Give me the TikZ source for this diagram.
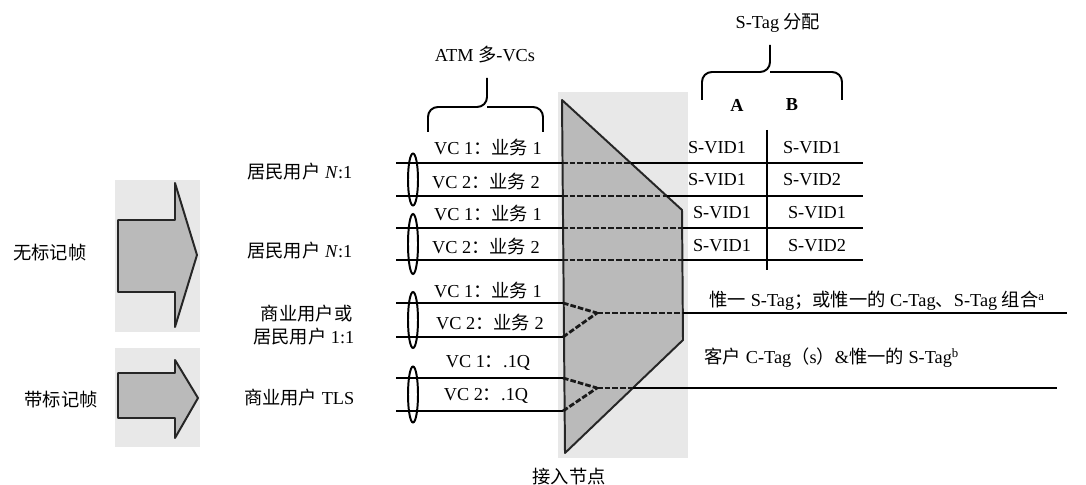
\documentclass[tikz,border=0pt]{standalone}
\usepackage{fontspec}
\setmainfont{Liberation Serif}
\newfontfamily\cjk{Noto Sans CJK SC}
\usepackage{xcolor}
\usetikzlibrary{positioning}

\begin{document}
\begin{tikzpicture}[
    x=0.025cm, y=-0.025cm,
    lbl/.style={font=\fontsize{13}{15}\selectfont, inner sep=1pt, align=center},
    link/.style={line width=1.5pt, black},
    dlink/.style={line width=2pt, black!90, dash pattern=on 4pt off 1.5pt},
    pad/.style={fill=black!9},
    frame/.style={fill=black!27, draw=black!85, line width=1.4pt, line join=round},
    ring/.style={draw, line width=1.4pt},
    brace/.style={draw, line width=1.4pt, rounded corners=7pt}
]
    \useasboundingbox (0,0) rectangle (1086,485);

    % frame arrows
    \fill[pad] (115,180) rectangle (200,332);
    \draw[frame] (118,220) -- (175,220) -- (175,183) -- (197,255) -- (175,327) -- (175,292) -- (118,292) -- cycle;
    \fill[pad] (115,348) rectangle (200,447);
    \draw[frame] (118,373) -- (175,373) -- (175,360) -- (198,398) -- (175,438) -- (175,418) -- (118,418) -- cycle;
    \node[lbl] (untagged) at (50,253) {\cjk 无标记帧};
    \node[lbl] (tagged) at (61,400) {\cjk 带标记帧};

    % user groups
    \node[lbl, anchor=east] (res1) at (354,172) {{\cjk 居民用户} \textit{N}:1};
    \node[lbl, anchor=east] (res2) at (354,251) {{\cjk 居民用户} \textit{N}:1};
    \node[lbl, anchor=east] (biz1) at (354,314) {\cjk 商业用户或};
    \node[lbl, anchor=east] (biz2) at (356,337) {{\cjk 居民用户} 1:1};
    \node[lbl, anchor=east] (tls) at (356,398) {{\cjk 商业用户} TLS};

    % access node
    \fill[pad] (558,92) rectangle (688,458);
    \draw[frame] (562,100) -- (682,210) -- (683,340) -- (565,453) -- cycle;
    \node[lbl] (node) at (569,477) {\cjk 接入节点};

    % VC lines, group 1 and 2
    \coordinate (a1) at (396,163); \coordinate (e1) at (562,163); \coordinate (s1) at (631,163); \coordinate (t1) at (863,163);
    \coordinate (a2) at (396,196); \coordinate (e2) at (562,196); \coordinate (s2) at (667,196); \coordinate (t2) at (863,196);
    \coordinate (a3) at (396,228); \coordinate (e3) at (562,228); \coordinate (s3) at (683,228); \coordinate (t3) at (863,228);
    \coordinate (a4) at (396,260); \coordinate (e4) at (562,260); \coordinate (s4) at (683,260); \coordinate (t4) at (863,260);
    \foreach \i in {1,...,4} {
        \draw[link] (a\i) -- (e\i);
        \draw[dlink] (e\i) -- (s\i);
        \draw[link] (s\i) -- (t\i);
    }

    % VC lines, group 3 and 4
    \coordinate (a5) at (396,303); \coordinate (e5) at (563,303);
    \coordinate (a6) at (396,337); \coordinate (e6) at (563,337);
    \coordinate (m1) at (597,313); \coordinate (p1) at (683,313); \coordinate (q1) at (1067,313);
    \coordinate (a7) at (396,378); \coordinate (e7) at (563,378);
    \coordinate (a8) at (396,411); \coordinate (e8) at (563,411);
    \coordinate (m2) at (597,388); \coordinate (p2) at (633,388); \coordinate (q2) at (1057,388);
    \draw[link] (a5) -- (e5); \draw[dlink] (e5) -- (m1);
    \draw[link] (a6) -- (e6); \draw[dlink] (e6) -- (m1);
    \draw[dlink] (m1) -- (p1); \draw[link] (p1) -- (q1);
    \draw[link] (a7) -- (e7); \draw[dlink] (e7) -- (m2);
    \draw[link] (a8) -- (e8); \draw[dlink] (e8) -- (m2);
    \draw[dlink] (m2) -- (p2); \draw[link] (p2) -- (q2);

    % bundles
    \draw[ring] (413,179.5) ellipse (5 and 26);
    \draw[ring] (413,244) ellipse (5 and 30);
    \draw[ring] (413,320) ellipse (5 and 28);
    \draw[ring] (413,394.5) ellipse (5 and 28);

    % VC labels
    \node[lbl] (vc1) at (488,148) {VC 1{\cjk ：业务} 1};
    \node[lbl] (vc2) at (486,182) {VC 2{\cjk ：业务} 2};
    \node[lbl] (vc3) at (488,214) {VC 1{\cjk ：业务} 1};
    \node[lbl] (vc4) at (486,247) {VC 2{\cjk ：业务} 2};
    \node[lbl] (vc5) at (488,291) {VC 1{\cjk ：业务} 1};
    \node[lbl] (vc6) at (490,323) {VC 2{\cjk ：业务} 2};
    \node[lbl] (vc7) at (488,363) {VC 1{\cjk ：}.1Q};
    \node[lbl] (vc8) at (486,396) {VC 2{\cjk ：}.1Q};

    % ATM brace
    \draw[brace] (428,132) |- (487,107) -- (487,78);
    \draw[brace] (543,132) |- (487,107);
    \node[lbl] (atm) at (485,55) {ATM {\cjk 多}-VCs};

    % S-Tag table
    \draw[brace] (702,100) |- (770,72) -- (770,45);
    \draw[brace] (842,100) |- (770,72);
    \node[lbl] (stag) at (778,23) {S-Tag {\cjk 分配}};
    \node[lbl] (colA) at (737,105) {\textbf{A}};
    \node[lbl] (colB) at (792,105) {\textbf{B}};
    \draw[link] (767,130) -- (767,270);
    \node[lbl] (r1a) at (717,148) {S-VID1};
    \node[lbl] (r1b) at (812,148) {S-VID1};
    \node[lbl] (r2a) at (717,180) {S-VID1};
    \node[lbl] (r2b) at (812,180) {S-VID2};
    \node[lbl] (r3a) at (722,213) {S-VID1};
    \node[lbl] (r3b) at (817,213) {S-VID1};
    \node[lbl] (r4a) at (722,246) {S-VID1};
    \node[lbl] (r4b) at (817,246) {S-VID2};

    % outgoing tags
    \node[lbl, anchor=west] (uniq) at (708,301) {{\cjk 惟一} S-Tag{\cjk ；或惟一的} C-Tag{\cjk 、}S-Tag {\cjk 组合}\textsuperscript{a}};
    \node[lbl, anchor=west] (cust) at (703,358) {{\cjk 客户} C-Tag{\cjk （}s{\cjk ）}\&{\cjk 惟一的} S-Tag\textsuperscript{b}};
\end{tikzpicture}
\end{document}
